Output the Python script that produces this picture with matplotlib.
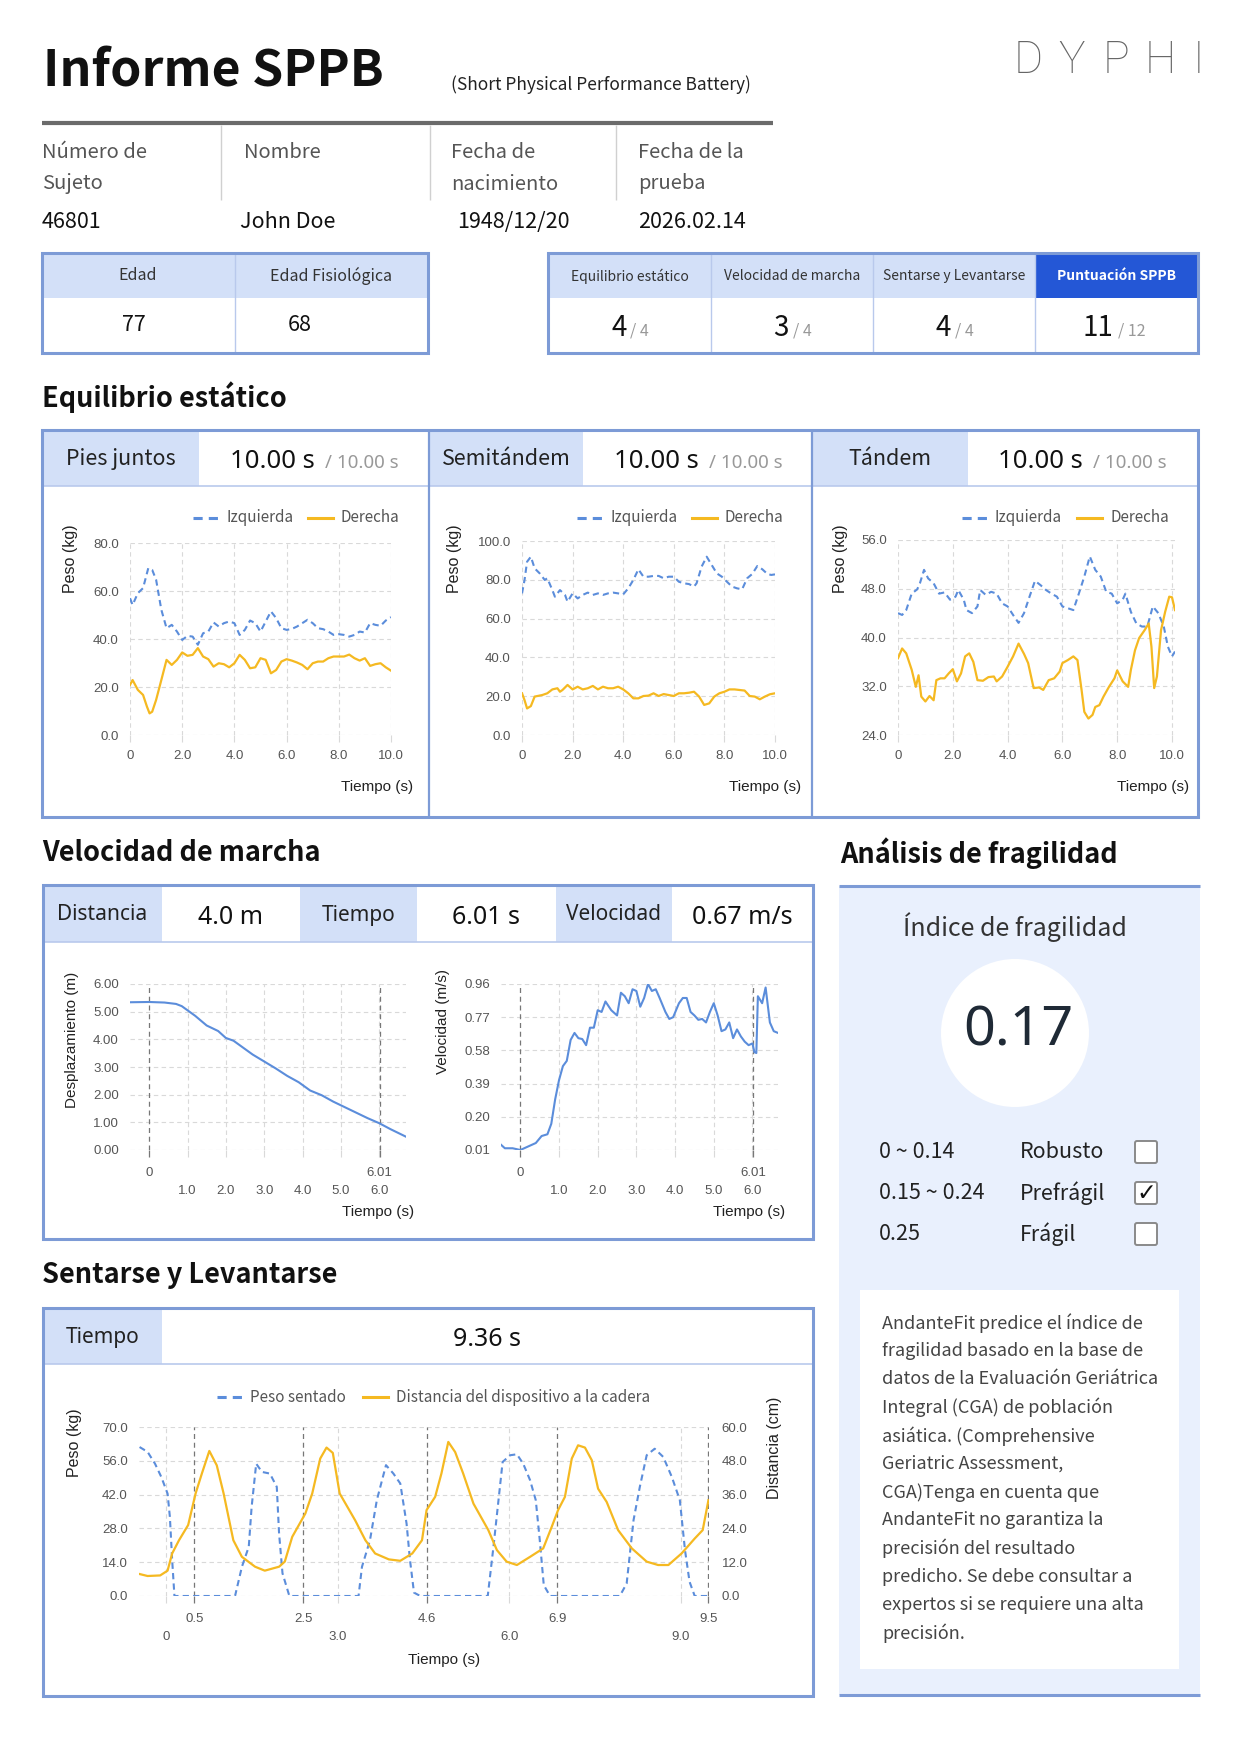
import matplotlib
matplotlib.use("Agg")
import matplotlib.pyplot as plt
from matplotlib.patches import Rectangle, Circle, FancyBboxPatch

UI = ["Noto Sans CJK KR", "DejaVu Sans"]
NUM = ["Noto Sans", "DejaVu Sans"]
CHART = ["Liberation Sans", "DejaVu Sans"]
plt.rcParams["font.family"] = CHART

BLUE = "#5b8ddb"
YELLOW = "#f5b921"
HEAD_BG = "#d3e0f8"
BORDER = "#7d9bd6"
LIGHT_LINE = "#b9c9ec"
DARK = "#2457d6"
PANEL_BG = "#e9f0fd"
GRID = "#d9d9d9"
TICK = "#555555"

# ---- datos del informe ----
INFO_LABELS = [("Número de", "Sujeto"), ("Nombre", ""), ("Fecha de", "nacimiento"), ("Fecha de la", "prueba")]
INFO_VALUES = ["46801", "John Doe", "1948/12/20", "2026.02.14"]
AGE_HEADERS = ["Edad", "Edad Fisiológica"]
AGE_VALUES = ["77", "68"]
SCORE_HEADERS = ["Equilibrio estático", "Velocidad de marcha", "Sentarse y Levantarse", "Puntuación SPPB"]
SCORE_VALUES = ["4", "3", "4", "11"]
SCORE_MAX = ["/ 4", "/ 4", "/ 4", "/ 12"]

BAL_NAMES = ["Pies juntos", "Semitándem", "Tándem"]
BAL_TIMES = ["10.00 s", "10.00 s", "10.00 s"]
BAL_LIMIT = "/ 10.00 s"

P1_LEFT = [(0, 57.0), (0.1, 54.2), (0.3, 59.1), (0.5, 61.2), (0.7, 69.5), (0.85, 68.8), (1.0, 64.7),
           (1.2, 52.2), (1.4, 44.5), (1.6, 45.9), (1.8, 43.1), (2.0, 39.6), (2.2, 41.3), (2.4, 41.0),
           (2.6, 37.6), (2.8, 42.4), (3.0, 43.1), (3.2, 46.9), (3.4, 45.2), (3.6, 46.6), (3.8, 47.3),
           (4.0, 46.6), (4.2, 41.7), (4.4, 43.8), (4.6, 47.7), (4.8, 46.6), (5.0, 43.1), (5.2, 47.3),
           (5.4, 51.5), (5.6, 48.7), (5.8, 44.5), (6.0, 43.8), (6.2, 44.2), (6.4, 45.2), (6.6, 46.6),
           (6.8, 48.0), (7.0, 46.6), (7.2, 44.5), (7.4, 44.1), (7.6, 43.1), (7.8, 41.7), (8.0, 42.0),
           (8.2, 41.7), (8.4, 41.0), (8.6, 41.7), (8.8, 43.1), (9.0, 42.7), (9.2, 46.6), (9.4, 45.9),
           (9.6, 45.5), (9.8, 47.7), (10.0, 49.1)]
P1_RIGHT = [(0, 20.9), (0.1, 22.9), (0.3, 18.8), (0.5, 16.7), (0.65, 11.8), (0.75, 9.0), (0.85, 9.7),
            (1.0, 14.6), (1.2, 22.9), (1.4, 31.3), (1.6, 29.2), (1.8, 31.3), (2.0, 34.4), (2.2, 33.0),
            (2.4, 33.4), (2.6, 36.2), (2.8, 32.7), (3.0, 31.6), (3.2, 28.5), (3.4, 29.9), (3.6, 29.5),
            (3.8, 28.2), (4.0, 29.9), (4.2, 33.4), (4.4, 31.3), (4.6, 27.8), (4.8, 28.2), (5.0, 32.0),
            (5.2, 31.3), (5.4, 25.7), (5.6, 27.1), (5.8, 30.6), (6.0, 31.6), (6.2, 31.0), (6.4, 30.2),
            (6.6, 29.2), (6.8, 27.4), (7.0, 29.9), (7.2, 30.6), (7.4, 30.6), (7.6, 32.0), (7.8, 32.7),
            (8.0, 32.7), (8.2, 32.7), (8.4, 33.5), (8.6, 32.0), (8.8, 31.0), (9.0, 32.0), (9.2, 28.8),
            (9.4, 29.5), (9.6, 29.9), (9.8, 28.2), (10.0, 26.8)]
P2_LEFT = [(0, 73.0), (0.1, 79.9), (0.2, 89.3), (0.35, 91.9), (0.5, 85.9), (0.7, 83.3), (0.9, 79.9),
           (1.0, 80.8), (1.2, 74.7), (1.3, 71.3), (1.5, 74.7), (1.7, 72.2), (1.8, 68.7), (2.0, 73.0),
           (2.2, 70.4), (2.4, 72.2), (2.6, 73.4), (2.8, 72.2), (3.0, 73.0), (3.2, 72.2), (3.4, 73.0),
           (3.6, 73.4), (3.8, 73.0), (4.0, 72.5), (4.2, 75.6), (4.4, 79.9), (4.6, 85.4), (4.8, 81.6),
           (5.0, 81.6), (5.2, 82.0), (5.4, 82.0), (5.6, 80.8), (5.8, 81.6), (6.0, 81.6), (6.2, 79.0),
           (6.4, 78.2), (6.6, 77.8), (6.8, 76.5), (6.9, 78.2), (7.1, 86.8), (7.3, 91.9), (7.5, 87.6),
           (7.7, 83.3), (7.9, 81.6), (8.1, 79.0), (8.3, 76.5), (8.5, 75.6), (8.7, 75.1), (8.9, 80.8),
           (9.1, 83.0), (9.3, 87.1), (9.5, 85.4), (9.7, 83.0), (9.85, 82.5), (10.0, 82.8)]
P2_RIGHT = [(0, 21.5), (0.1, 18.0), (0.2, 13.7), (0.35, 14.9), (0.5, 19.8), (0.8, 20.6), (1.0, 21.5),
            (1.2, 23.5), (1.4, 24.1), (1.5, 22.3), (1.6, 23.2), (1.8, 25.8), (2.0, 23.5), (2.2, 24.9),
            (2.4, 23.5), (2.6, 24.1), (2.8, 25.3), (3.0, 23.5), (3.2, 24.9), (3.4, 24.1), (3.6, 24.1),
            (3.8, 24.9), (4.0, 23.5), (4.2, 21.5), (4.4, 18.9), (4.6, 18.9), (4.8, 20.1), (5.0, 20.3),
            (5.2, 21.5), (5.4, 20.1), (5.6, 21.1), (5.8, 20.6), (6.0, 20.1), (6.2, 21.5), (6.4, 21.5),
            (6.6, 21.8), (6.8, 22.3), (7.0, 19.8), (7.2, 15.5), (7.4, 16.3), (7.6, 19.8), (7.8, 21.5),
            (8.0, 22.3), (8.2, 23.5), (8.4, 23.5), (8.6, 23.2), (8.8, 22.9), (9.0, 20.1), (9.2, 19.8),
            (9.4, 18.4), (9.6, 19.8), (9.8, 21.0), (10.0, 21.5)]
P3_LEFT = [(0, 44.0), (0.15, 43.7), (0.3, 44.5), (0.5, 47.2), (0.7, 47.9), (0.8, 48.9), (0.95, 51.1),
           (1.1, 49.7), (1.3, 48.9), (1.5, 47.2), (1.7, 47.4), (1.9, 46.2), (2.1, 46.7), (2.2, 47.8),
           (2.4, 46.2), (2.5, 44.5), (2.7, 44.0), (2.9, 45.1), (3.0, 47.8), (3.2, 47.0), (3.4, 47.5),
           (3.6, 47.2), (3.8, 45.6), (4.0, 45.1), (4.2, 43.7), (4.4, 42.4), (4.6, 44.0), (4.8, 46.7),
           (5.0, 49.3), (5.2, 48.6), (5.4, 47.8), (5.6, 47.2), (5.8, 46.7), (6.0, 45.1), (6.2, 44.8),
           (6.4, 44.5), (6.6, 47.2), (6.8, 50.0), (7.0, 53.3), (7.2, 51.1), (7.4, 50.0), (7.6, 47.5),
           (7.8, 47.2), (8.0, 45.6), (8.2, 46.2), (8.3, 47.2), (8.5, 44.2), (8.7, 42.3), (8.9, 41.8),
           (9.1, 41.8), (9.3, 45.1), (9.5, 44.0), (9.7, 41.8), (9.85, 38.5), (10.0, 36.9), (10.11, 37.7)]
P3_RIGHT = [(0, 36.6), (0.15, 38.2), (0.3, 37.4), (0.5, 34.7), (0.65, 31.9), (0.75, 33.8), (0.85, 30.3),
            (1.0, 29.5), (1.15, 30.4), (1.3, 29.7), (1.4, 33.0), (1.55, 33.3), (1.7, 33.3), (1.85, 34.1),
            (2.0, 34.8), (2.15, 32.8), (2.3, 34.1), (2.45, 36.9), (2.6, 37.4), (2.75, 36.0), (2.9, 33.0),
            (3.1, 32.9), (3.3, 33.5), (3.5, 33.6), (3.6, 32.8), (3.8, 33.6), (4.0, 35.2), (4.2, 36.9),
            (4.4, 39.0), (4.6, 37.3), (4.75, 35.8), (4.95, 31.7), (5.15, 31.8), (5.3, 31.4), (5.5, 33.0),
            (5.7, 33.3), (5.9, 34.4), (6.0, 35.8), (6.2, 36.3), (6.4, 36.9), (6.55, 36.3), (6.7, 31.4),
            (6.8, 27.8), (6.95, 26.7), (7.1, 27.3), (7.2, 28.6), (7.35, 28.9), (7.5, 30.3), (7.7, 31.9),
            (7.9, 33.3), (8.0, 34.6), (8.2, 32.8), (8.4, 31.9), (8.5, 34.7), (8.65, 37.9), (8.8, 39.9),
            (9.0, 41.2), (9.15, 42.3), (9.25, 38.5), (9.35, 31.7), (9.45, 33.6), (9.6, 41.2), (9.75, 44.2),
            (9.9, 46.7), (10.0, 46.6), (10.11, 44.5)]

GAIT_HEAD = [("Distancia", "4.0 m"), ("Tiempo", "6.01 s"), ("Velocidad", "0.67 m/s")]
GAIT_DISP = [(-0.5, 5.34), (0.0, 5.35), (0.4, 5.33), (0.7, 5.28), (0.85, 5.2), (1.0, 5.05), (1.2, 4.85),
             (1.5, 4.5), (1.8, 4.3), (2.0, 4.05), (2.2, 3.95), (2.4, 3.75), (2.7, 3.45), (3.0, 3.2),
             (3.3, 2.95), (3.6, 2.68), (3.9, 2.45), (4.2, 2.15), (4.5, 1.98), (4.8, 1.75), (5.1, 1.55),
             (5.4, 1.35), (5.7, 1.15), (6.0, 0.97), (6.3, 0.75), (6.7, 0.48)]
GAIT_VEL = [(-0.5, 0.04), (-0.4, 0.02), (-0.2, 0.02), (0, 0.01), (0.2, 0.03), (0.4, 0.05), (0.55, 0.09),
            (0.7, 0.10), (0.8, 0.16), (0.9, 0.30), (1.0, 0.41), (1.1, 0.49), (1.2, 0.52), (1.3, 0.64),
            (1.4, 0.68), (1.5, 0.65), (1.6, 0.645), (1.7, 0.61), (1.8, 0.71), (1.9, 0.71), (2.0, 0.81),
            (2.1, 0.80), (2.2, 0.86), (2.35, 0.81), (2.5, 0.78), (2.6, 0.91), (2.7, 0.89), (2.8, 0.85),
            (2.9, 0.93), (3.0, 0.92), (3.1, 0.83), (3.2, 0.88), (3.3, 0.96), (3.4, 0.92), (3.5, 0.93),
            (3.6, 0.88), (3.75, 0.80), (3.85, 0.76), (3.95, 0.77), (4.1, 0.85), (4.2, 0.88), (4.3, 0.88),
            (4.4, 0.80), (4.5, 0.78), (4.6, 0.755), (4.7, 0.76), (4.8, 0.74), (4.9, 0.80), (5.0, 0.85),
            (5.1, 0.78), (5.2, 0.69), (5.3, 0.70), (5.4, 0.74), (5.5, 0.65), (5.6, 0.70), (5.7, 0.66),
            (5.8, 0.63), (5.9, 0.61), (6.0, 0.62), (6.05, 0.57), (6.1, 0.565), (6.14, 0.89), (6.25, 0.85),
            (6.34, 0.94), (6.45, 0.74), (6.55, 0.69), (6.66, 0.68)]
GAIT_MARKS = [0, 6.01]
GAIT_MARK_LABELS = ["0", "6.01"]

SIT_TIME = "9.36 s"
SIT_WEIGHT = [(-0.47, 61.7), (-0.33, 59.7), (-0.2, 54.8), (-0.09, 49.3), (0.02, 42.4), (0.06, 32.8),
              (0.1, 14.9), (0.14, 0.0), (1.2, 0.0), (1.32, 12.1), (1.44, 20.4), (1.49, 36.9), (1.57, 54.8),
              (1.67, 51.4), (1.81, 50.7), (1.93, 45.2), (1.97, 25.9), (2.03, 9.4), (2.15, 0.0), (3.36, 0.0),
              (3.42, 12.1), (3.56, 23.1), (3.68, 39.7), (3.84, 54.2), (3.97, 50.7), (4.09, 46.6), (4.2, 30.0),
              (4.26, 14.9), (4.33, 1.4), (4.44, 0.0), (5.62, 0.0), (5.72, 20.4), (5.88, 55.5), (6.01, 58.3),
              (6.13, 58.7), (6.24, 54.8), (6.36, 48.0), (6.46, 39.7), (6.53, 23.1), (6.60, 4.5), (6.71, 0.0),
              (7.93, 0.0), (8.05, 5.2), (8.17, 31.4), (8.28, 45.2), (8.40, 58.3), (8.54, 61.0), (8.69, 57.6),
              (8.84, 49.3), (8.98, 39.7), (9.07, 19.0), (9.15, 5.9), (9.24, 0.0), (9.48, 0.0)]
SIT_DIST = [(-0.47, 7.8), (-0.33, 7.1), (-0.11, 7.3), (0.02, 9.0), (0.1, 15.1), (0.22, 19.8), (0.38, 25.2),
            (0.51, 36.4), (0.62, 43.5), (0.75, 51.5), (0.88, 46.4), (1.0, 36.4), (1.17, 19.8), (1.32, 13.9),
            (1.55, 10.4), (1.72, 9.0), (1.97, 10.4), (2.07, 12.2), (2.2, 21.0), (2.43, 29.3), (2.55, 36.4),
            (2.69, 48.8), (2.8, 52.7), (2.91, 50.8), (3.03, 36.4), (3.3, 26.9), (3.48, 19.8), (3.65, 15.1),
            (3.89, 13.0), (4.09, 12.5), (4.3, 15.1), (4.47, 19.8), (4.55, 30.5), (4.70, 35.2), (4.81, 43.5),
            (4.93, 54.7), (5.05, 51.1), (5.19, 43.5), (5.37, 32.8), (5.63, 23.4), (5.78, 16.3), (5.95, 12.2),
            (6.13, 11.0), (6.36, 13.9), (6.59, 16.9), (6.74, 24.6), (6.85, 30.5), (6.97, 35.2), (7.09, 48.8),
            (7.20, 53.5), (7.32, 52.7), (7.44, 48.2), (7.55, 38.1), (7.70, 33.4), (7.90, 23.4), (8.14, 16.9),
            (8.40, 12.2), (8.60, 11.0), (8.78, 11.0), (9.01, 15.1), (9.24, 20.4), (9.38, 23.4), (9.48, 34.0)]
SIT_MARKS = [0.49, 2.39, 4.55, 6.84, 9.48]
SIT_MARK_LABELS = ["0.5", "2.5", "4.6", "6.9", "9.5"]

FRAIL_INDEX = "0.17"
FRAIL_ROWS = [("0 ~ 0.14", "Robusto", False), ("0.15 ~ 0.24", "Prefrágil", True), ("0.25", "Frágil", False)]
NOTE_LINES = ["AndanteFit predice el índice de", "fragilidad basado en la base de",
              "datos de la Evaluación Geriátrica", "Integral (CGA) de población",
              "asiática. (Comprehensive", "Geriatric Assessment,", "CGA)Tenga en cuenta que",
              "AndanteFit no garantiza la", "precisión del resultado", "predicho. Se debe consultar a",
              "expertos si se requiere una alta", "precisión."]

# ---- lienzo ----
W, H = 1241, 1754
fig = plt.figure(figsize=(W / 100, H / 100), dpi=100)
bg = fig.add_axes([0, 0, 1, 1])
bg.set_xlim(0, W)
bg.set_ylim(H, 0)
bg.axis("off")


def txt(x, y, s, size, color="#222222", weight="normal", ha="left", va="center", fam=UI, **kw):
    return bg.text(x, y, s, fontsize=size, color=color, fontweight=weight, ha=ha, va=va, family=fam, **kw)


def box(x0, y0, x1, y1, fc="none", ec="none", lw=0.0, z=1):
    bg.add_patch(Rectangle((x0, y0), x1 - x0, y1 - y0, facecolor=fc, edgecolor=ec, linewidth=lw, zorder=z))


def seg(x0, y0, x1, y1, color, lw, z=2):
    bg.plot([x0, x1], [y0, y1], color=color, lw=lw, solid_capstyle="butt", zorder=z)


def clip_to(t, xmax, ymax=H):
    t.set_clip_path(Rectangle((0, 0), xmax, ymax, transform=bg.transData))


def px_axes(x0, y0, x1, y1):
    return fig.add_axes([x0 / W, 1 - y1 / H, (x1 - x0) / W, (y1 - y0) / H])


def style(ax, xlim, ylim, yticks, ylabels):
    ax.set_facecolor("none")
    for s in ax.spines.values():
        s.set_visible(False)
    ax.set_xlim(*xlim)
    ax.set_ylim(*ylim)
    ax.set_yticks(yticks, ylabels)
    ax.grid(True, color=GRID, lw=0.8, ls=(0, (4, 3)))
    ax.set_axisbelow(True)
    ax.tick_params(axis="y", length=0, pad=8, labelsize=9.5, labelcolor=TICK)
    ax.tick_params(axis="x", length=5, width=0.8, color=GRID, pad=6, labelsize=9.5, labelcolor=TICK)


def legend(x, y, items, gap):
    for color, dashed, label in items:
        ls = (0, (3, 2)) if dashed else "-"
        bg.plot([x, x + 25], [y, y], color=color, lw=2.2, ls=ls, zorder=3)
        txt(x + 33, y, label, 11, color="#555555")
        x += gap


# ---- cabecera ----
txt(43, 72, "Informe SPPB", 36, color="#111111", weight="bold")
txt(451, 85, "(Short Physical Performance Battery)", 12.5)
for ch, cx in zip("DYPHI", [1028, 1072, 1116, 1160, 1199]):
    txt(cx, 61, ch, 32, color="#666666", weight="light", ha="center", fam=["Roboto", "DejaVu Sans"])
seg(42, 123, 773, 123, "#6b6b6b", 3)

info_x = [42, 244, 451, 638]
for (l1, l2), val, x, vx in zip(INFO_LABELS, INFO_VALUES, info_x, [42, 240, 457, 638]):
    txt(x, 153, l1, 14.5, color="#555555")
    if l2:
        txt(x, 184, l2, 14.5, color="#555555")
    txt(vx, 222, val, 15.5, color="#111111")
for x in [221, 430, 616]:
    seg(x, 125, x, 200, "#d0d0d0", 1)

# edad
box(42, 253, 428, 298, fc=HEAD_BG)
seg(235, 253, 235, 353, LIGHT_LINE, 1)
box(42, 253, 428, 353, ec=BORDER, lw=2.2, z=3)
for label, val, cx, vx in zip(AGE_HEADERS, AGE_VALUES, [138, 331], [134, 300]):
    txt(cx, 276, label, 11.5, color="#333333", ha="center")
    txt(vx, 331, val, 15.5, color="#111111", ha="center", va="baseline")

# puntuaciones
cells = [548, 711, 873, 1035, 1198]
for i, (head, val, mx) in enumerate(zip(SCORE_HEADERS, SCORE_VALUES, SCORE_MAX)):
    x0, x1 = cells[i], cells[i + 1]
    last = i == len(SCORE_HEADERS) - 1
    box(x0, 253, x1, 298, fc=DARK if last else HEAD_BG)
    if i:
        seg(x0, 253, x0, 353, LIGHT_LINE, 1)
    c = (x0 + x1) / 2
    txt(c, 276, head, 10, color="white" if last else "#333333", ha="center",
        weight="bold" if last else "normal")
    txt(c - 3, 336, val, 20, color="#111111", ha="right", va="baseline")
    txt(c + 1, 336, mx, 11.5, color="#999999", ha="left", va="baseline")
box(548, 253, 1198, 353, ec=BORDER, lw=2.2, z=3)

# ---- equilibrio estático ----
txt(42, 397, "Equilibrio estático", 19.5, color="#111111", weight="bold")
box(42, 430, 1198, 817, fc="white")
bal_cells = [(42, 199, 429), (429, 583, 812), (812, 968, 1198)]
val_x = [(230, 325), (614, 709), (998, 1093)]
for (x0, xl, x1), name, tval, (vx, gx) in zip(bal_cells, BAL_NAMES, BAL_TIMES, val_x):
    box(x0, 430, xl, 486, fc=HEAD_BG)
    txt((x0 + xl) / 2, 459, name, 15.5, color="#222222", ha="center")
    txt(vx, 468, tval, 18.5, color="#111111", va="baseline", fam=NUM)
    txt(gx, 468, BAL_LIMIT, 13.5, color="#999999", va="baseline", fam=NUM)
seg(42, 486, 1198, 486, LIGHT_LINE, 1.2)
for x in [429, 812]:
    seg(x, 430, x, 817, BORDER, 1.6)
box(42, 430, 1198, 817, ec=BORDER, lw=2.2, z=3)

bal_axes = [(130, 543, 391, 735, (0, 10), (0, 80), [0, 20, 40, 60, 80], P1_LEFT, P1_RIGHT),
            (522, 541, 775, 735, (0, 10), (0, 100), [0, 20, 40, 60, 80, 100], P2_LEFT, P2_RIGHT),
            (898, 540, 1175, 735, (0, 10.11), (24, 56), [24, 32, 40, 48, 56], P3_LEFT, P3_RIGHT)]
legend_x = [193, 577, 962]
ylab_x = [70, 455, 840]
tlab_x = [(341, W), (729, 800), (1117, 1186)]
for (x0, y0, x1, y1, xl, yl, yt, left, right), lx, yx, (tx, tclip) in zip(bal_axes, legend_x, ylab_x, tlab_x):
    ax = px_axes(x0, y0, x1, y1)
    style(ax, xl, yl, yt, [f"{v:.1f}" for v in yt])
    ax.set_xticks([0, 2, 4, 6, 8, 10], ["0", "2.0", "4.0", "6.0", "8.0", "10.0"])
    ax.plot([p[0] for p in left], [p[1] for p in left], color=BLUE, lw=1.5, ls=(0, (3, 2)))
    ax.plot([p[0] for p in right], [p[1] for p in right], color=YELLOW, lw=1.6)
    legend(lx, 518, [(BLUE, True, "Izquierda"), (YELLOW, False, "Derecha")], 115)
    txt(yx, 559, "Peso (kg)", 11.5, color="#222222", ha="center", rotation=90, fam=CHART)
    t = txt(tx, 787, "Tiempo (s)", 11, color="#222222", fam=CHART)
    clip_to(t, tclip)

# ---- velocidad de marcha ----
txt(42, 853, "Velocidad de marcha", 19.5, color="#111111", weight="bold")
box(43, 885, 813, 1239, fc="white")
gcells = [(43, 162, 300), (300, 417, 556), (556, 672, 813)]
for (x0, xl, x1), (lab, val) in zip(gcells, GAIT_HEAD):
    box(x0, 885, xl, 942, fc=HEAD_BG)
    txt((x0 + xl) / 2, 915, lab, 15, color="#222222", ha="center", fam=NUM)
    txt((xl + x1) / 2, 917, val, 18, color="#111111", ha="center", fam=NUM)
seg(43, 942, 813, 942, LIGHT_LINE, 1.2)
box(43, 885, 813, 1239, ec=BORDER, lw=2.2, z=3)

gait_axes = [(130, 984, 406, 1150, (-0.5, 6.7), (0, 6), [0, 1, 2, 3, 4, 5, 6], "{:.2f}", GAIT_DISP,
              72, 1040, "Desplazamiento (m)", 342),
             (501, 984, 778, 1150, (-0.5, 6.66), (0.01, 0.96), [0.01, 0.20, 0.39, 0.58, 0.77, 0.96], "{:.2f}",
              GAIT_VEL, 443, 1022, "Velocidad (m/s)", 713)]
for x0, y0, x1, y1, xl, yl, yt, fmt, data, yx, yy, ylab, tx in gait_axes:
    ax = px_axes(x0, y0, x1, y1)
    style(ax, xl, yl, yt, [fmt.format(v) for v in yt])
    ax.set_xticks([1, 2, 3, 4, 5, 6], ["1.0", "2.0", "3.0", "4.0", "5.0", "6.0"])
    ax.set_xticks(GAIT_MARKS, GAIT_MARK_LABELS, minor=True)
    ax.tick_params(axis="x", which="major", pad=20)
    ax.tick_params(axis="x", which="minor", length=5, width=0.9, color="#777777", pad=7,
                   labelsize=9.5, labelcolor=TICK)
    for m in GAIT_MARKS:
        ax.axvline(m, color="#777777", lw=0.9, ls=(0, (4, 3)), zorder=1)
    ax.plot([p[0] for p in data], [p[1] for p in data], color=BLUE, lw=1.5)
    txt(yx, yy, ylab, 11, color="#222222", ha="center", rotation=90, fam=CHART)
    txt(tx, 1212, "Tiempo (s)", 11, color="#222222", fam=CHART)

# ---- sentarse y levantarse ----
txt(42, 1275, "Sentarse y Levantarse", 19.5, color="#111111", weight="bold")
box(43, 1308, 813, 1696, fc="white")
box(43, 1308, 162, 1364, fc=HEAD_BG)
txt(103, 1337, "Tiempo", 15, color="#222222", ha="center", fam=NUM)
txt(487, 1340, SIT_TIME, 18, color="#111111", ha="center", fam=NUM)
seg(43, 1364, 813, 1364, LIGHT_LINE, 1.2)
box(43, 1308, 813, 1696, ec=BORDER, lw=2.2, z=3)

ax = px_axes(139, 1427, 709, 1596)
style(ax, (-0.48, 9.49), (0, 70), [0, 14, 28, 42, 56, 70], ["0.0", "14.0", "28.0", "42.0", "56.0", "70.0"])
ax.set_xticks([0, 3, 6, 9], ["0", "3.0", "6.0", "9.0"])
ax.set_xticks(SIT_MARKS, SIT_MARK_LABELS, minor=True)
ax.tick_params(axis="x", which="major", pad=20)
ax.tick_params(axis="x", which="minor", length=5, width=0.9, color="#777777", pad=7,
               labelsize=9.5, labelcolor=TICK)
for m in SIT_MARKS:
    ax.axvline(m, color="#777777", lw=0.9, ls=(0, (4, 3)), zorder=1)
ax.plot([p[0] for p in SIT_WEIGHT], [p[1] for p in SIT_WEIGHT], color=BLUE, lw=1.5, ls=(0, (3, 2)))
ax2 = ax.twinx()
for s in ax2.spines.values():
    s.set_visible(False)
ax2.set_ylim(0, 60)
ax2.set_yticks([0, 12, 24, 36, 48, 60], ["0.0", "12.0", "24.0", "36.0", "48.0", "60.0"])
ax2.tick_params(axis="y", length=0, pad=9, labelsize=9.5, labelcolor=TICK)
ax2.plot([p[0] for p in SIT_DIST], [p[1] for p in SIT_DIST], color=YELLOW, lw=1.6)
legend(217, 1397, [(BLUE, True, "Peso sentado"), (YELLOW, False, "Distancia del dispositivo a la cadera")], 146)
txt(75, 1443, "Peso (kg)", 11.5, color="#222222", ha="center", rotation=90, fam=CHART)
txt(775, 1448, "Distancia (cm)", 11.5, color="#222222", ha="center", rotation=90, fam=CHART)
t = txt(408, 1660, "Tiempo (s)", 11, color="#222222", fam=CHART)
clip_to(t, W, 1665)

# ---- análisis de fragilidad ----
txt(840, 853, "Análisis de fragilidad", 19.5, color="#111111", weight="bold")
box(839, 886, 1200, 1695, fc=PANEL_BG)
seg(839, 886, 1200, 886, BORDER, 2.2)
seg(839, 1695, 1200, 1695, BORDER, 2.2)
txt(1015, 927, "Índice de fragilidad", 18, color="#333333", ha="center")
bg.add_patch(Circle((1015, 1033), 74, facecolor="white", edgecolor="none", zorder=2))
txt(1018, 1031, FRAIL_INDEX, 40, color="#1f2a36", ha="center", zorder=3, fam=NUM)
for (rng, cat, checked), y in zip(FRAIL_ROWS, [1152, 1193, 1234]):
    txt(879, y, rng, 15.5, color="#222222")
    txt(1020, y, cat, 15.5, color="#222222", weight="medium")
    bg.add_patch(FancyBboxPatch((1135, y - 11), 22, 22, boxstyle="round,pad=0,rounding_size=2",
                                facecolor="white", edgecolor="#8a8a8a", linewidth=1.4, zorder=3))
    if checked:
        txt(1146, y, "✓", 17, color="#111111", ha="center", fam=["DejaVu Sans"], zorder=4)
box(860, 1290, 1179, 1669, fc="white", z=2)
for i, line in enumerate(NOTE_LINES):
    txt(882, 1323 + i * 28.2, line, 13, color="#444444", zorder=3)

fig.savefig("out.png", dpi=100, facecolor="white")
